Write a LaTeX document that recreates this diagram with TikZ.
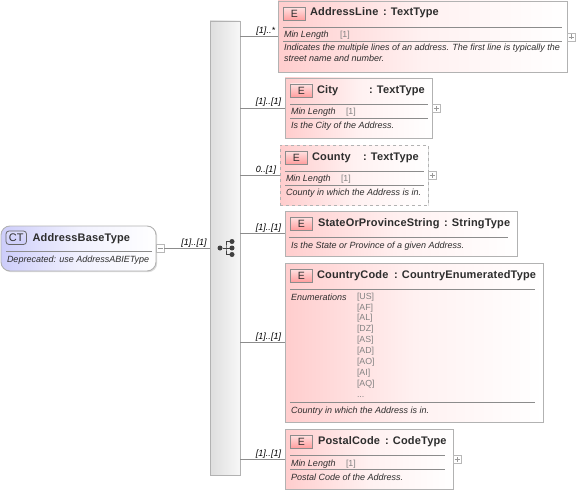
\documentclass[tikz,border=0pt]{standalone}
\usepackage{fontspec}
\setmainfont{Liberation Sans}
\newfontfamily\ttlfont[LetterSpace=1.6]{Liberation Sans}
\usetikzlibrary{shadows}
\definecolor{edgeg}{RGB}{178,178,178}
\definecolor{pinkl}{RGB}{255,205,205}
\definecolor{lavl}{RGB}{205,205,250}
\definecolor{txt}{RGB}{45,45,45}
\definecolor{sepg}{RGB}{140,140,140}
\definecolor{lblg}{RGB}{130,130,130}
\tikzset{
  x=1pt,y=-1pt,
  every node/.style={inner sep=0pt,outer sep=0pt},
  shad/.style={drop shadow={shadow xshift=1.2pt,shadow yshift=-1.2pt,fill=black,opacity=.14}},
  ebox/.style={rectangle,anchor=north west,draw=edgeg,line width=.9pt,left color=pinkl,right color=white,middle color=pinkl!28!white,shad},
  ctbox/.style={rectangle,rounded corners=9pt,anchor=north west,draw=edgeg,line width=.9pt,left color=lavl,right color=white,middle color=lavl!28!white,shad},
  barbox/.style={rectangle,anchor=north west,draw=edgeg,line width=.8pt,left color=white!87!black,right color=white!97!black,shad},
  eicon/.style={rectangle,anchor=north west,draw=black!45,line width=.7pt,top color=pinkl!60!white,bottom color=red!38!white,minimum width=21.5pt,minimum height=13pt,font=\fontsize{10.5}{12}\selectfont,text=txt},
  cticon/.style={rectangle,rounded corners=3pt,anchor=north west,draw=black!60,line width=.8pt,top color=lavl!70!white,bottom color=lavl,minimum width=20.5pt,minimum height=13.5pt,font=\fontsize{11}{12}\selectfont,text=txt},
  ttl/.style={anchor=base west,font=\ttlfont\bfseries\fontsize{11}{13}\selectfont,text=txt},
  meta/.style={anchor=base west,font=\itshape\fontsize{9}{11}\selectfont,text=txt},
  val/.style={anchor=base west,font=\fontsize{8.8}{11}\selectfont,text=lblg},
  card/.style={anchor=base east,font=\itshape\fontsize{9}{11}\selectfont,text=black},
  sepl/.style={draw=sepg,line width=.7pt},
  conn/.style={draw=black!45,line width=.6pt},
  expbox/.style={rectangle,anchor=north west,draw=black!28,fill=white,line width=.6pt,minimum width=8pt,minimum height=8pt},
  dotn/.style={circle,fill=black!75,minimum size=5pt},
  sym/.style={draw=black!40,line width=.5pt},
  wire/.style={draw=black!75,line width=1pt}
}
\begin{document}
\begin{tikzpicture}
\useasboundingbox (0,0) rectangle (576,495);
% sequence bar
\node[barbox,minimum width=30pt,minimum height=454pt] (bar) at (210,21) {};
% element boxes
\node[ebox,minimum width=289pt,minimum height=71pt] (a) at (278,1) {};
\node[ebox,minimum width=147pt,minimum height=60pt] (b) at (285,78) {};
\node[ebox,dashed,minimum width=148pt,minimum height=60pt] (c) at (280,145) {};
\node[ebox,minimum width=232pt,minimum height=45pt] (d) at (285,211) {};
\node[ebox,minimum width=258pt,minimum height=159pt] (e) at (285,263) {};
\node[ebox,minimum width=168pt,minimum height=60pt] (f) at (285,429) {};
\node[ctbox,minimum width=155pt,minimum height=45pt] (r) at (1,226) {};
% expanders
\node[expbox] (xr) at (156,244) {};
\node[expbox] (xa) at (567,33) {};
\node[expbox] (xb) at (432,104) {};
\node[expbox] (xc) at (428,171) {};
\node[expbox] (xf) at (453,455) {};
\foreach \n in {xa,xb,xc,xf}{\draw[sym] ([xshift=-2.5pt]\n.center) -- ([xshift=2.5pt]\n.center) ([yshift=-2.5pt]\n.center) -- ([yshift=2.5pt]\n.center);}
\draw[sym] ([xshift=-2.5pt]xr.center) -- ([xshift=2.5pt]xr.center);
% connectors
\draw[conn] (xr.east) -- (xr.east -| bar.west);
\foreach \n in {a,b,c,d,e,f}{\draw[conn] (bar.east |- \n.west) -- (\n.west);}
% compositor icon
\node[dotn] (c0) at (220,248) {};
\node[dotn] (c1) at (232,241.5) {};
\node[dotn] (c2) at (232,248) {};
\node[dotn] (c3) at (232,254.5) {};
\coordinate (cj) at (226,248);
\draw[wire] (c0) -- (c2);
\draw[wire] (c1.center) -| (cj) |- (c3.center);
% root
\node[cticon] (rI) at (6,231) {CT};
\node[ttl] (rT) at (32.5,241) {AddressBaseType};
\draw[sepl] (6,251) -- (152,251);
\node[meta] (rD) at (7,262) {Deprecated: use AddressABIEType};
\node[card] (rC) at (206.5,245) {[1]..[1]};
% AddressLine
\node[eicon] (aI) at (283.5,7.5) {E};
\node[ttl] (aT) at (310,16) {AddressLine};
\node[ttl] (aU) at (383,16) {: TextType};
\draw[sepl] (283,27) -- (562,27) (283,41) -- (562,41);
\node[meta] (aM) at (284,38) {Min Length};
\node[val] (aV) at (340,38) {[1]};
\node[meta] (aD1) at (284,51) {Indicates the multiple lines of an address. The first line is typically the};
\node[meta] (aD2) at (284,62) {street name and number.};
\node[card] (aC) at (275,34) {[1]..*};
% City
\node[eicon] (bI) at (290.5,84) {E};
\node[ttl] (bT) at (317,93) {City};
\node[ttl] (bU) at (369,93) {: TextType};
\draw[sepl] (290,104) -- (428,104) (290,118) -- (428,118);
\node[meta] (bM) at (291,114.5) {Min Length};
\node[val] (bV) at (346,114.5) {[1]};
\node[meta] (bD) at (291,128.5) {Is the City of the Address.};
\node[card] (bC) at (281,105) {[1]..[1]};
% County
\node[eicon] (cI) at (285.5,151) {E};
\node[ttl] (cT) at (312,160) {County};
\node[ttl] (cU) at (363,160) {: TextType};
\draw[sepl] (285,171) -- (424,171) (285,185) -- (424,185);
\node[meta] (cM) at (286,181.5) {Min Length};
\node[val] (cV) at (341,181.5) {[1]};
\node[meta] (cD) at (286,195.5) {County in which the Address is in.};
\node[card] (cC) at (276,172) {0..[1]};
% State
\node[eicon] (dI) at (290.5,217) {E};
\node[ttl] (dT) at (318,226) {StateOrProvinceString};
\node[ttl] (dU) at (444,226) {: StringType};
\draw[sepl] (289,237) -- (508,237);
\node[meta] (dD) at (291,248.5) {Is the State or Province of a given Address.};
\node[card] (dC) at (281,230) {[1]..[1]};
% CountryCode
\node[eicon] (eI) at (290.5,269) {E};
\node[ttl] (eT) at (317,278) {CountryCode};
\node[ttl] (eU) at (394,278) {: CountryEnumeratedType};
\draw[sepl] (290,289) -- (535,289) (290,402) -- (535,402);
\node[meta] (eM) at (291,300) {Enumerations};
\node[val] (e1) at (357,299.5) {[US]};
\node[val] (e2) at (357,310) {[AF]};
\node[val] (e3) at (357,320.5) {[AL]};
\node[val] (e4) at (357,331.5) {[DZ]};
\node[val] (e5) at (357,342.5) {[AS]};
\node[val] (e6) at (357,353.5) {[AD]};
\node[val] (e7) at (357,364.5) {[AO]};
\node[val] (e8) at (357,375.5) {[AI]};
\node[val] (e9) at (357,386.5) {[AQ]};
\node[val] (e10) at (357,397) {...};
\node[meta] (eD) at (291,413) {Country in which the Address is in.};
\node[card] (eC) at (281,339) {[1]..[1]};
% PostalCode
\node[eicon] (fI) at (290.5,435) {E};
\node[ttl] (fT) at (318,444) {PostalCode};
\node[ttl] (fU) at (385,444) {: CodeType};
\draw[sepl] (290,455) -- (445,455) (290,469) -- (445,469);
\node[meta] (fM) at (291,466) {Min Length};
\node[val] (fV) at (346,466) {[1]};
\node[meta] (fD) at (291,480) {Postal Code of the Address.};
\node[card] (fC) at (281,456) {[1]..[1]};
\end{tikzpicture}
\end{document}
